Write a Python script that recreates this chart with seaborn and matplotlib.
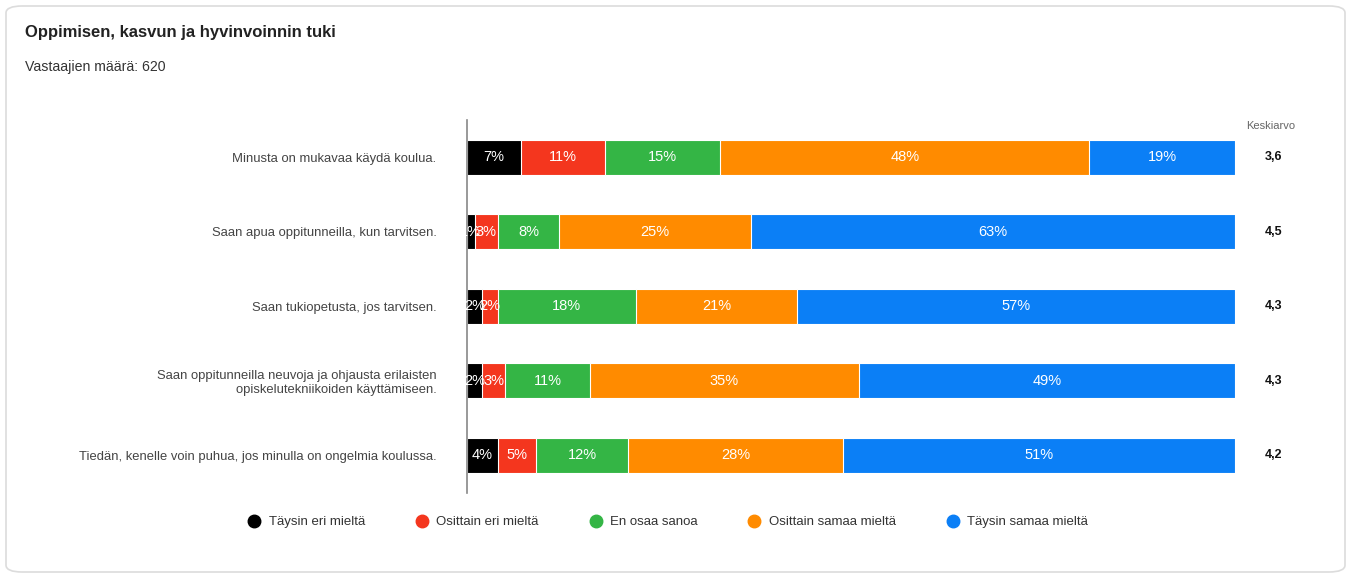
import numpy as np
import pandas as pd
import matplotlib
matplotlib.use("Agg")
import matplotlib.pyplot as plt
import seaborn as sns
from matplotlib.patches import FancyBboxPatch
from matplotlib.lines import Line2D

# data
questions = [
    "Minusta on mukavaa käydä koulua.",
    "Saan apua oppitunneilla, kun tarvitsen.",
    "Saan tukiopetusta, jos tarvitsen.",
    "Saan oppitunneilla neuvoja ja ohjausta erilaisten\nopiskelutekniikoiden käyttämiseen.",
    "Tiedän, kenelle voin puhua, jos minulla on ongelmia koulussa.",
]
answers = ["Täysin eri mieltä", "Osittain eri mieltä", "En osaa sanoa",
           "Osittain samaa mieltä", "Täysin samaa mieltä"]
taysin_eri = [7, 1, 2, 2, 4]
osittain_eri = [11, 3, 2, 3, 5]
en_osaa = [15, 8, 18, 11, 12]
osittain_samaa = [48, 25, 21, 35, 28]
taysin_samaa = [19, 63, 57, 49, 51]
means = ["3,6", "4,5", "4,3", "4,3", "4,2"]
colors = ["#000000", "#f4361e", "#34b545", "#ff8b00", "#0b7ff6"]

plt.rcParams["font.family"] = ["Liberation Sans", "DejaVu Sans"]

df = pd.DataFrame({"question": questions})
series = [taysin_eri, osittain_eri, en_osaa, osittain_samaa, taysin_samaa]
for name, vals in zip(answers, series):
    df[name] = vals
cum = df[answers].cumsum(axis=1)

fig = plt.figure(figsize=(13.51, 5.74), dpi=100)

# card background
card = FancyBboxPatch((6 / 1351, 2 / 574), 1339 / 1351, 566 / 574,
                      boxstyle="round,pad=0,rounding_size=0.012",
                      transform=fig.transFigure, facecolor="white",
                      edgecolor="#dcdcdc", linewidth=1.2, zorder=-5)
fig.patches.append(card)

ax = fig.add_axes([467 / 1351, 1 - 492.5 / 574, 768 / 1351, 372.5 / 574])
ax.set_facecolor("none")
ax.set_zorder(2)

# stacked bars: draw cumulative totals from the widest down
for i in range(len(answers) - 1, -1, -1):
    sns.barplot(x=cum[answers[i]], y=df["question"], orient="h",
                color=colors[i], width=0.47, edgecolor="white",
                linewidth=0.8, ax=ax, saturation=1)

# segment labels
for r in range(len(questions)):
    left = 0
    for i, name in enumerate(answers):
        v = df[name].iloc[r]
        ax.text(left + v / 2, r, f"{v}%", ha="center", va="center",
                color="white", fontsize=10.5)
        left += v

ax.set_xlim(0, 100)
ax.set_ylim(4.5, -0.5)
ax.set_xlabel("")
ax.set_ylabel("")
ax.set_xticks([])
for s in ["top", "right", "bottom"]:
    ax.spines[s].set_visible(False)
ax.spines["left"].set_color("#888888")
ax.spines["left"].set_linewidth(1.2)
ax.tick_params(axis="y", length=0, pad=22, labelsize=9.4, labelcolor="#444444")

# means column
fig.text(1246 / 1351, 1 - 126 / 574, "Keskiarvo", fontsize=8,
         color="#666666", ha="left", va="center")
for r, m in enumerate(means):
    ax.text(1.05, r, m, transform=ax.get_yaxis_transform(), ha="center",
            va="center", fontsize=9, fontweight="bold", color="#111111")

# titles
fig.text(25 / 1351, 1 - 33 / 574, "Oppimisen, kasvun ja hyvinvoinnin tuki",
         fontsize=12, fontweight="bold", color="#222222", va="center")
fig.text(25 / 1351, 1 - 67 / 574, "Vastaajien määrä: 620",
         fontsize=10.2, color="#333333", va="center")

# legend
handles = [Line2D([], [], marker="o", linestyle="", markersize=9,
                  markerfacecolor=c, markeredgecolor=c) for c in colors]
fig.legend(handles, answers, loc="center", ncol=5,
           bbox_to_anchor=(668 / 1351, 1 - 522 / 574), frameon=False,
           fontsize=9.5, handlelength=1, handletextpad=0.6,
           columnspacing=3.8, labelcolor="#333333")

fig.savefig("out.png", dpi=100)
